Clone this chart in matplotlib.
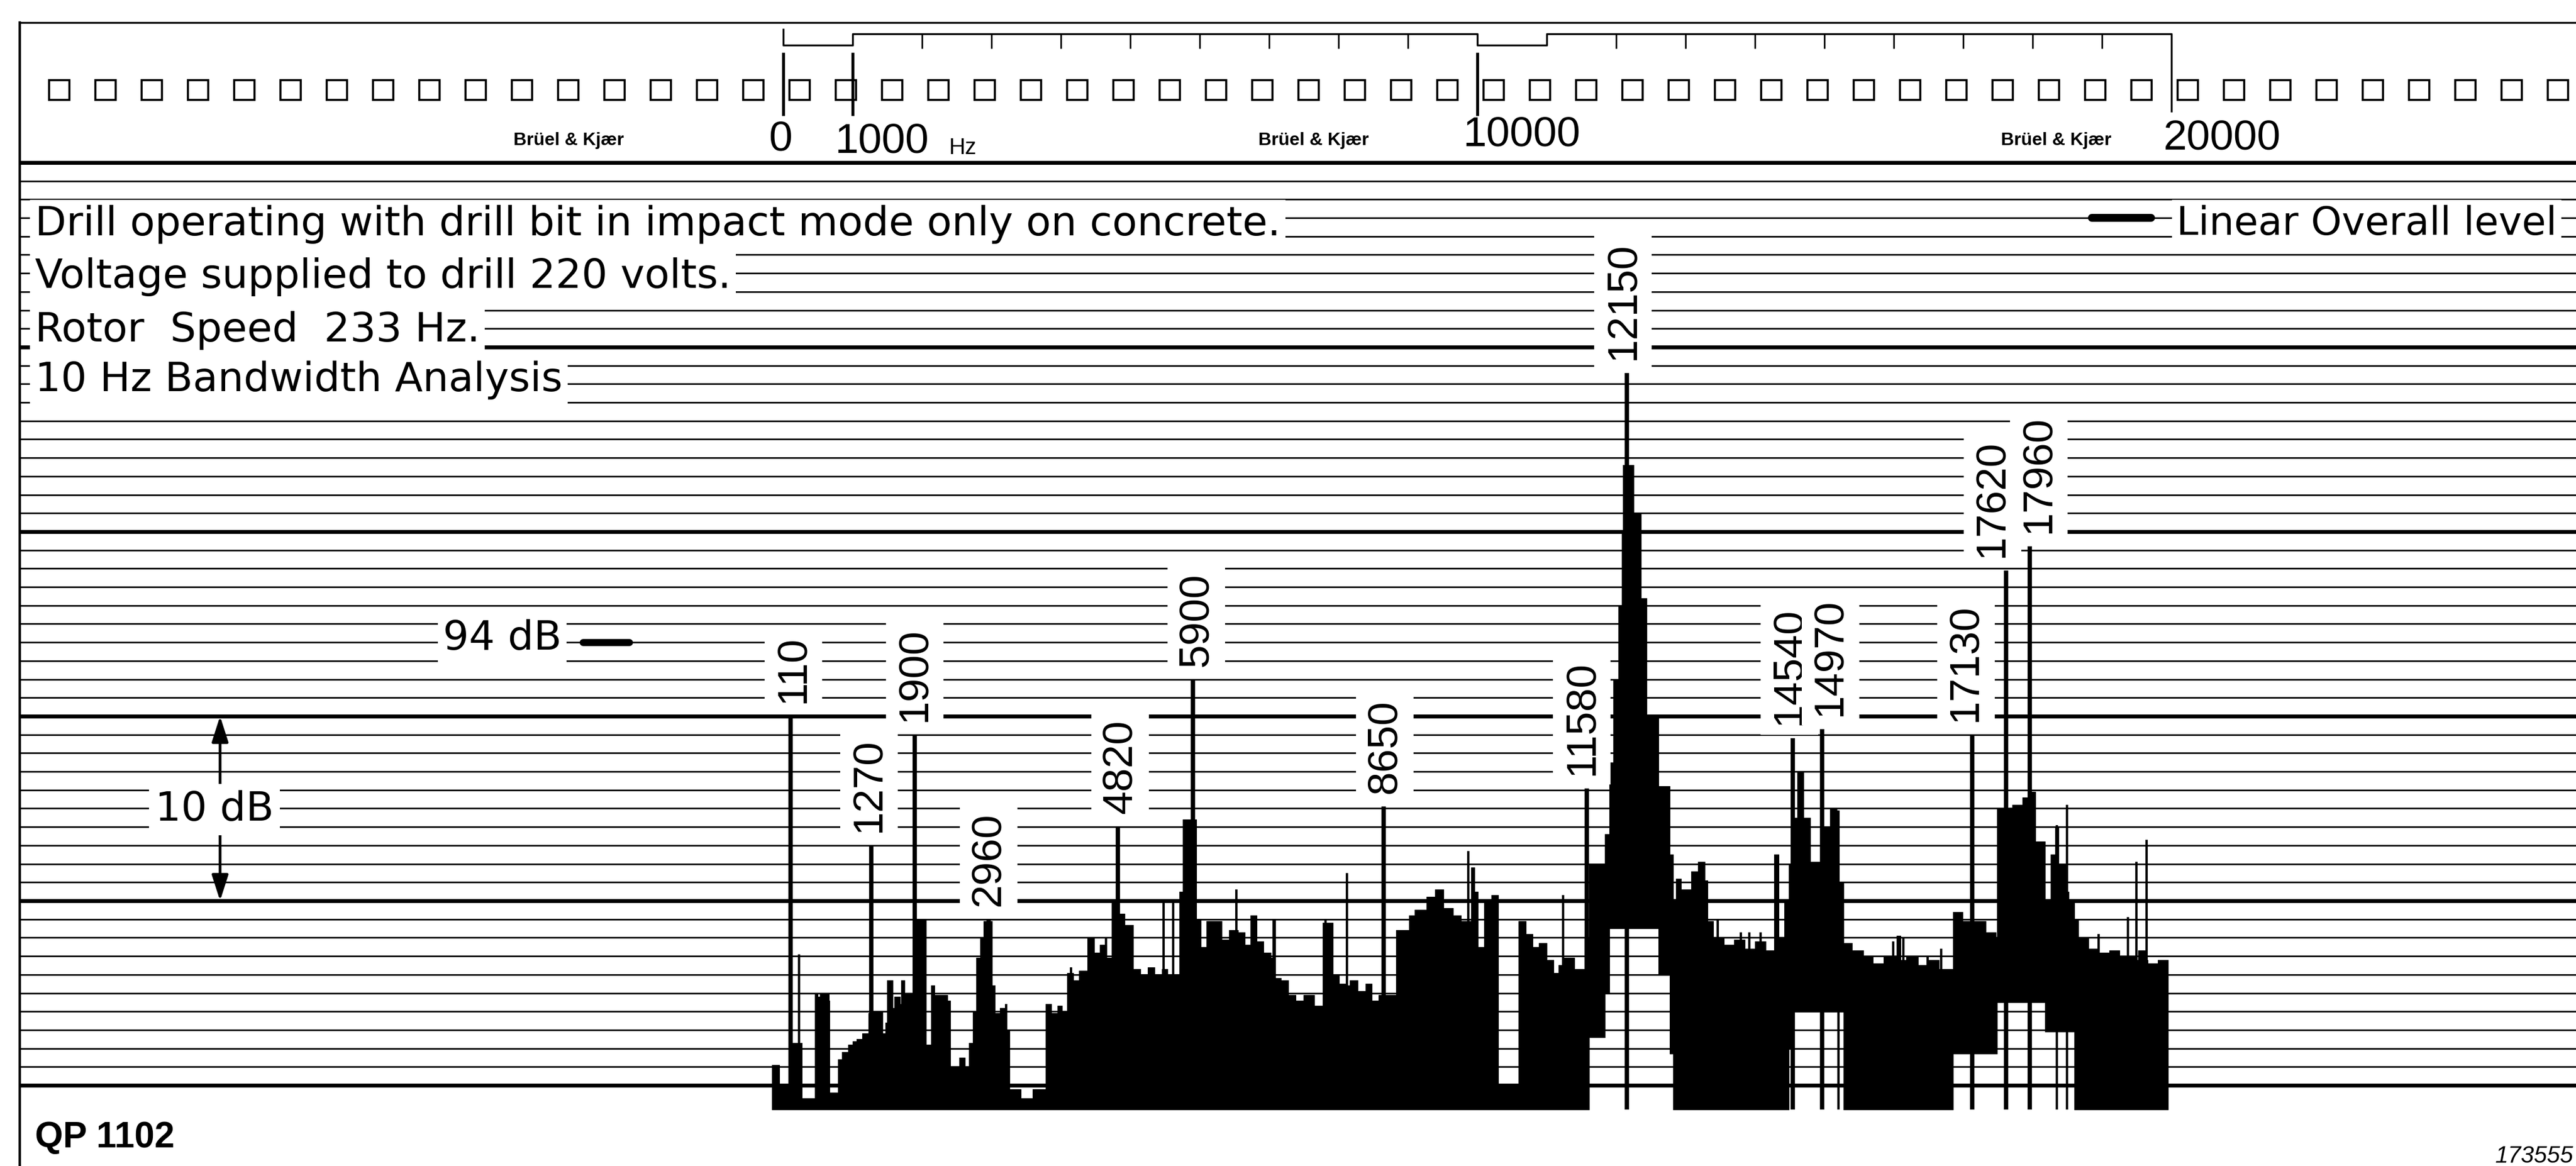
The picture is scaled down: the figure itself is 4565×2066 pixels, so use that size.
import numpy as np
import matplotlib
matplotlib.use("Agg")
import matplotlib.pyplot as plt
from matplotlib.patches import Rectangle

# ------------------------------------------------------------------
# Narrow-band (10 Hz) spectrum of an impact drill, levels in dB
# ------------------------------------------------------------------
peak_freqs = [110, 1270, 1900, 2960, 4820, 5900, 8650, 11580, 12150,
              14540, 14970, 17130, 17620, 17960]
peak_levels = [90.0, 83.0, 89.0, 79.0, 84.0, 92.0, 85.1, 86.1, 108.6,
               88.8, 89.3, 89.0, 97.9, 99.2]

spike_freqs = [-100, 230, 1520, 1720, 2150, 3210, 4150, 4420, 4650, 5480,
               5620, 6530, 6800, 7070, 7810, 8120, 9470, 9870, 10240,
               11235, 12910, 13270, 13460, 13795, 13914, 14081, 14300,
               15200, 15990, 16135, 16489, 16680, 18350, 18490, 18945,
               19375, 19495, 19637]
spike_levels = [71.1, 77.1, 75.7, 75.7, 75.4, 74.4, 76.4, 78.0, 78.0, 80.0,
                80.0, 80.6, 79.2, 79.0, 79.0, 81.5, 80.6, 82.7, 80.3,
                80.3, 81.2, 82.1, 79.0, 78.3, 78.3, 78.3, 82.5,
                84.9, 77.8, 78.0, 77.0, 77.4, 84.1, 85.2, 78.2,
                79.1, 82.1, 83.3]

# pen excursion: each entry holds from its frequency up to the next one
spec_freq = [-160, -57, 130, 274, 460, 500, 530, 660, 670, 793,
             850, 938, 1000, 1062, 1140, 1228, 1290, 1430, 1477, 1498,
             1580, 1600, 1685, 1705, 1747, 1871, 2057, 2140, 2182, 2369,
             2410, 2540, 2620, 2680, 2730, 2783, 2840, 2887, 3010, 3050,
             3120, 3219, 3260, 3426, 3592, 3780, 3860, 3950, 4020, 4090,
             4180, 4260, 4380, 4480, 4560, 4660, 4730, 4830, 4920, 5040,
             5150, 5250, 5350, 5460, 5540, 5710, 5760, 5950, 6020, 6100,
             6320, 6420, 6550, 6650, 6735, 6820, 6920, 7025, 7046, 7088,
             7170, 7274, 7380, 7500, 7650, 7772, 7917, 8010, 8104, 8166,
             8280, 8394, 8480, 8580, 8830, 9016, 9100, 9265, 9390, 9514,
             9650, 9763, 9907, 9960, 10011, 10094, 10200, 10300, 10592, 10700,
             10800, 10882, 11000, 11100, 11172, 11255, 11400, 11546, 11608, 11836,
             11900, 11960, 12030, 12080, 12100, 12250, 12357, 12440, 12611, 12770,
             12820, 12865, 12937, 13080, 13175, 13250, 13318, 13400, 13556, 13700,
             13850, 14000, 14150, 14272, 14343, 14420, 14490, 14534, 14606, 14700,
             14796, 14939, 15083, 15178, 15273, 15400, 15560, 15700, 15850, 16036,
             16100, 16180, 16350, 16500, 16650, 16850, 16990, 17320, 17470, 17490,
             17705, 17850, 17965, 18040, 18180, 18260, 18325, 18375, 18470, 18516,
             18600, 18660, 18800, 18945, 19100, 19250, 19470, 19517, 19613, 19660,
             19800, 19950]
spec_top = [71.1, 69.9, 72.3, 69.3, 75.0, 74.8, 75.0, 74.6, 69.6, 71.4,
            71.8, 72.2, 72.4, 72.5, 72.8, 73.9, 74.0, 72.8, 73.4, 75.7,
            74.2, 74.8, 74.4, 75.7, 75.0, 79.0, 72.2, 75.4, 74.9, 74.6,
            71.0, 71.5, 71.0, 72.3, 74.0, 76.9, 78.0, 78.9, 75.4, 73.9,
            74.2, 73.0, 69.8, 69.3, 69.8, 74.4, 73.9, 74.3, 74.0, 76.1,
            75.7, 76.2, 78.0, 77.2, 77.6, 76.9, 79.9, 79.3, 78.7, 76.3,
            76.0, 76.4, 76.0, 76.3, 76.0, 80.5, 84.4, 79.0, 77.5, 78.9,
            77.9, 78.4, 78.3, 77.6, 79.2, 77.8, 77.2, 76.9, 79.0, 75.8,
            75.7, 74.9, 74.6, 74.9, 74.3, 78.8, 76.0, 75.5, 75.4, 75.7,
            75.1, 75.5, 74.6, 74.9, 78.4, 79.2, 79.5, 80.2, 80.6, 79.6,
            79.2, 78.9, 81.8, 80.5, 77.5, 80.0, 80.3, 69.9, 78.9, 78.2,
            77.5, 77.7, 76.8, 76.1, 76.5, 76.9, 76.3, 78.0, 82.0, 83.6,
            87.5, 92.0, 96.0, 100.0, 103.6, 101.0, 96.4, 90.0, 86.2, 82.5,
            80.1, 81.2, 80.6, 81.6, 82.1, 81.1, 78.9, 78.0, 77.6, 77.9,
            77.4, 77.8, 77.3, 82.5, 78.0, 80.0, 82.0, 84.5, 87.0, 84.5,
            82.1, 84.0, 85.0, 81.0, 77.7, 77.3, 77.0, 76.6, 77.0, 78.1,
            76.8, 77.0, 76.5, 76.8, 76.3, 79.4, 78.9, 78.3, 78.0, 85.0,
            85.2, 85.6, 85.9, 83.2, 80.0, 82.5, 84.0, 82.0, 80.5, 80.0,
            79.0, 78.0, 77.4, 77.2, 77.3, 77.0, 76.8, 77.3, 76.8, 76.6,
            76.8, 76.8]
spec_low = [68.7, 68.7, 68.7, 68.7, 68.7, 68.7, 68.7, 68.7, 68.7, 68.7,
            68.7, 68.7, 68.7, 68.7, 68.7, 68.7, 68.7, 68.7, 68.7, 68.7,
            68.7, 68.7, 68.7, 68.7, 68.7, 68.7, 68.7, 68.7, 68.7, 68.7,
            68.7, 68.7, 68.7, 68.7, 68.7, 68.7, 68.7, 68.7, 68.7, 68.7,
            68.7, 68.7, 68.7, 68.7, 68.7, 68.7, 68.7, 68.7, 68.7, 68.7,
            68.7, 68.7, 68.7, 68.7, 68.7, 68.7, 68.7, 68.7, 68.7, 68.7,
            68.7, 68.7, 68.7, 68.7, 68.7, 68.7, 68.7, 68.7, 68.7, 68.7,
            68.7, 68.7, 68.7, 68.7, 68.7, 68.7, 68.7, 68.7, 68.7, 68.7,
            68.7, 68.7, 68.7, 68.7, 68.7, 68.7, 68.7, 68.7, 68.7, 68.7,
            68.7, 68.7, 68.7, 68.7, 68.7, 68.7, 68.7, 68.7, 68.7, 68.7,
            68.7, 68.7, 68.7, 68.7, 68.7, 68.7, 68.7, 68.7, 68.7, 68.7,
            68.7, 68.7, 68.7, 68.7, 68.7, 68.7, 68.7, 68.7, 72.6, 75.0,
            78.5, 78.5, 78.5, 78.5, 78.5, 78.5, 78.5, 78.5, 76.0, 71.7,
            68.7, 68.7, 68.7, 68.7, 68.7, 68.7, 68.7, 68.7, 68.7, 68.7,
            68.7, 68.7, 68.7, 68.7, 68.7, 68.7, 72.0, 74.0, 74.0, 74.0,
            74.0, 74.0, 74.0, 74.0, 68.7, 68.7, 68.7, 68.7, 68.7, 68.7,
            68.7, 68.7, 68.7, 68.7, 68.7, 71.7, 71.7, 71.7, 71.7, 74.5,
            74.5, 74.5, 74.5, 74.5, 72.9, 72.9, 72.9, 72.9, 72.9, 72.9,
            68.7, 68.7, 68.7, 68.7, 68.7, 68.7, 68.7, 68.7, 68.7, 68.7,
            68.7, 68.7]

scale_freqs = [0, 1000, 10000, 20000]
scale_labels = ["0", "1000", "10000", "20000"]
scale_unit = "Hz"
minor_scale_freqs = [2000, 3000, 4000, 5000, 6000, 7000, 8000, 9000,
                     12000, 13000, 14000, 15000, 16000, 17000, 18000, 19000]

note_lines = ["Drill operating with drill bit in impact mode only on concrete.",
              "Voltage supplied to drill 220 volts.",
              "Rotor  Speed  233 Hz.",
              "10 Hz Bandwidth Analysis"]
overall_label = "Linear Overall level"
overall_level_db = 117
ref_level_db = 94
range_label = "10 dB"
range_db = (80, 90)
top_db, bottom_db = 120, 70
floor_db = 68.7
brand = "Br\u00fcel & Kj\u00e6r"
paper_code = "QP 1102"
sheet_no = "173555"

# ------------------------------------------------------------------
# Sheet geometry (pixels of the 4565 x 2066 sheet)
# ------------------------------------------------------------------
W, H = 4565, 2066
X0_PX, PX_PER_HZ = 1387.7, 0.12303
Y_TOP_PX, PX_PER_DB = 288.0, 32.7


def fx(px):
    return px / W


def fy(py):
    return 1.0 - py / H


plt.rcParams['font.family'] = ['Liberation Sans', 'DejaVu Sans']
NOTE_FONT = ['DejaVu Sans']

fig = plt.figure(figsize=(W / 100, H / 100), dpi=100)
ax = fig.add_axes([0, 0, 1, 1])
ax.set_xlim(-X0_PX / PX_PER_HZ, (W - X0_PX) / PX_PER_HZ)
ax.set_ylim(top_db - (H - Y_TOP_PX) / PX_PER_DB, top_db + Y_TOP_PX / PX_PER_DB)
ax.axis('off')

ytr = ax.get_yaxis_transform()   # x axes-fraction, y in dB
xtr = ax.get_xaxis_transform()   # x in Hz, y axes-fraction
LEFT = fx(35)

# dB ruling: 1 dB thin lines, 10 dB heavy lines
levels = np.arange(bottom_db, top_db + 1)
thin = [v for v in levels if v % 10]
heavy = [v for v in levels if v % 10 == 0]
ax.hlines(thin, LEFT, 1, transform=ytr, colors='black', lw=2.0, zorder=1)
ax.hlines(heavy, LEFT, 1, transform=ytr, colors='black', lw=5.0, zorder=1)

# sheet borders
ax.plot([LEFT, LEFT], [0, fy(40)], transform=ax.transAxes, color='black', lw=3.2, zorder=2)
ax.plot([LEFT, 1], [fy(40), fy(40)], transform=ax.transAxes, color='black', lw=2.4, zorder=2)

# perforation row
for i in range(55):
    ax.add_patch(Rectangle((fx(87 + 82 * i), fy(177)), 36 / W, 35 / H,
                           transform=ax.transAxes, fill=False, ec='black', lw=2.6, zorder=2))

# printed frequency scale
step_x = [scale_freqs[0], scale_freqs[0], scale_freqs[1], scale_freqs[1],
          scale_freqs[2], scale_freqs[2], scale_freqs[2] + scale_freqs[1],
          scale_freqs[2] + scale_freqs[1], scale_freqs[3], scale_freqs[3]]
step_y = [fy(p) for p in [52, 80, 80, 60, 60, 80, 80, 60, 60, 197]]
ax.plot(step_x, step_y, transform=xtr, color='black', lw=2.4, zorder=2)
ax.vlines(minor_scale_freqs, fy(86), fy(60), transform=xtr, colors='black', lw=2.0, zorder=2)
ax.vlines(scale_freqs[:3], fy(205), fy(93), transform=xtr, colors='black', lw=3.8, zorder=2)

ax.text(fx(1383), fy(268), scale_labels[0], transform=ax.transAxes, ha='center',
        va='baseline', fontsize=54)
ax.text(fx(1479), fy(272), scale_labels[1], transform=ax.transAxes, ha='left',
        va='baseline', fontsize=54)
ax.text(fx(1682), fy(273), scale_unit, transform=ax.transAxes, ha='left',
        va='baseline', fontsize=29)
ax.text(fx(2696), fy(260), scale_labels[2], transform=ax.transAxes, ha='center',
        va='baseline', fontsize=54)
ax.text(fx(3937), fy(265), scale_labels[3], transform=ax.transAxes, ha='center',
        va='baseline', fontsize=54)
for cx in (1008, 2328, 3644):
    ax.text(fx(cx), fy(257), brand, transform=ax.transAxes, ha='center', va='baseline',
            fontsize=23, fontweight='bold')

# annotations on the chart
white = dict(boxstyle='square,pad=0.12', fc='white', ec='none')
for text, base in zip(note_lines, [116.05, 113.2, 110.3, 107.6]):
    ax.text(fx(62), base, text, transform=ytr, ha='left', va='baseline',
            fontsize=52, family=NOTE_FONT, bbox=white, zorder=5)

ax.text(fx(3857), 116.1, overall_label, transform=ytr, ha='left', va='baseline',
        fontsize=50, family=NOTE_FONT, bbox=white, zorder=5)
ax.plot([fx(3707), fx(3812)], [overall_level_db] * 2, transform=ytr, color='black',
        lw=10, solid_capstyle='round', zorder=4)

ax.text(fx(995), ref_level_db - 0.4, f"{ref_level_db} dB", transform=ytr, ha='right',
        va='baseline', fontsize=52, family=NOTE_FONT, bbox=white, zorder=5)
ax.plot([fx(1033), fx(1115)], [ref_level_db] * 2, transform=ytr, color='black',
        lw=9, solid_capstyle='round', zorder=4)

arrow_x = fx(390)
mid_db = sum(range_db) / 2
for end in range_db:
    ax.annotate('', xy=(arrow_x, end), xytext=(arrow_x, mid_db), xycoords=ytr,
                textcoords=ytr, zorder=3,
                arrowprops=dict(arrowstyle='-|>,head_length=1.4,head_width=0.45',
                                mutation_scale=20, lw=3.5, color='black',
                                shrinkA=0, shrinkB=0))
ax.text(fx(380), mid_db - 0.66, range_label, transform=ytr, ha='center', va='baseline',
        fontsize=52, family=NOTE_FONT,
        bbox=dict(boxstyle='square,pad=0.15', fc='white', ec='none'), zorder=5)

ax.text(fx(62), 66.64, paper_code, transform=ytr, ha='left', va='baseline',
        fontsize=46, fontweight='bold')
ax.text(fx(4561), 65.8, sheet_no, transform=ytr, ha='right', va='baseline',
        fontsize=30, style='italic')

# spectrum trace
ax.fill_between(spec_freq, spec_low, spec_top, step='post', color='black',
                lw=0.8, zorder=3)
ax.vlines(spike_freqs, floor_db, spike_levels, colors='black', lw=3.0, zorder=3)
ax.vlines(peak_freqs, floor_db, peak_levels, colors='black', lw=5.5, zorder=3)

# peak frequency labels (nudged sideways where they crowd)
label_shift = [41, -33, 0, 0, 33, 49, 16, -73, -49, -48, 115, -95, -203, 130]
for f, lv, dx in zip(peak_freqs, peak_levels, label_shift):
    ax.text(f + dx, lv + 0.7, str(f), rotation=90, ha='center', va='bottom',
            fontsize=54, zorder=6,
            bbox=dict(boxstyle='square,pad=0.22', fc='white', ec='none'))

fig.savefig("out.png", dpi=100, facecolor='white')
